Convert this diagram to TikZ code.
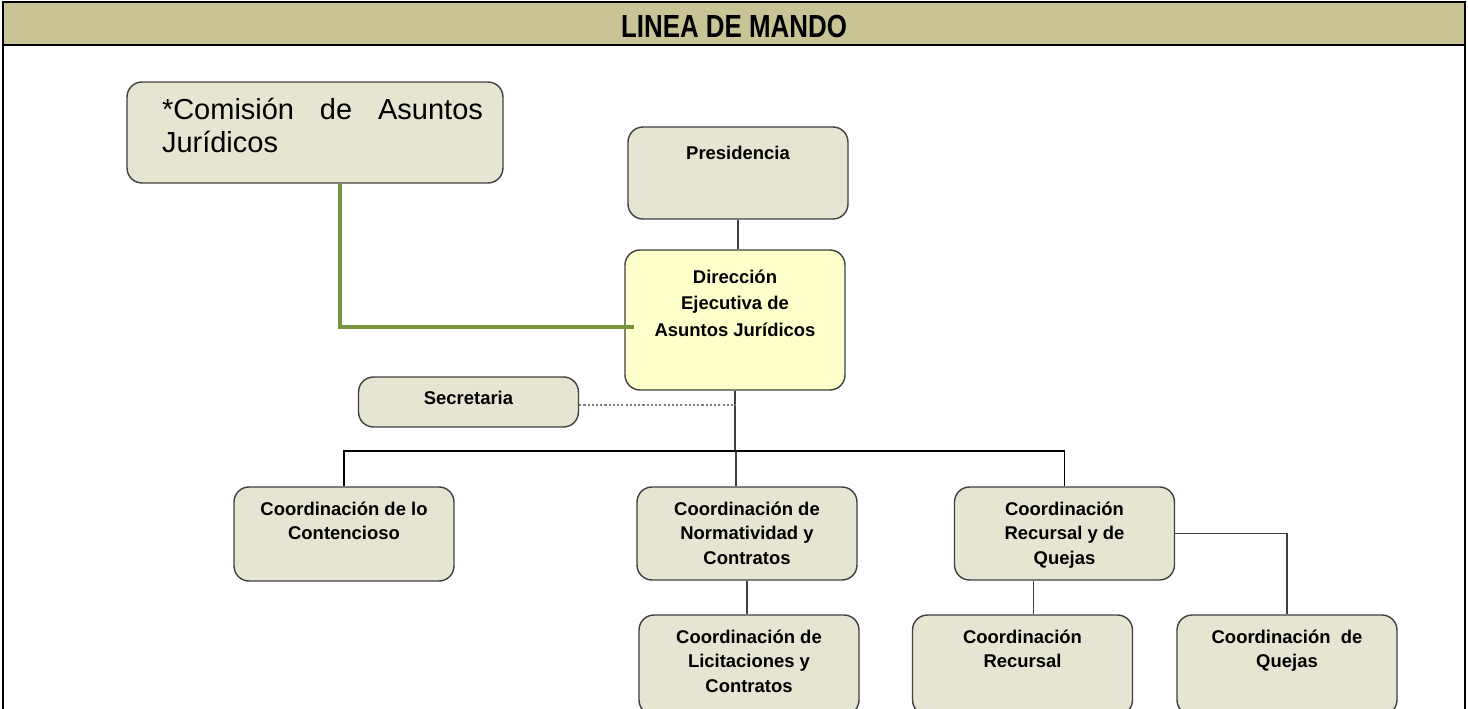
\documentclass[tikz,border=0pt]{standalone}
\usepackage{fontspec}
\setmainfont{Liberation Sans}
\usepackage{tikz}
\definecolor{bandtan}{RGB}{201,196,150}
\definecolor{boxfill}{RGB}{230,229,210}
\definecolor{dirfill}{RGB}{255,255,204}
\definecolor{linkgreen}{RGB}{119,147,60}
\definecolor{edgegray}{RGB}{64,64,64}
\newcommand{\boxlines}[3][0.36cm]{\parbox[c][#2][t]{4.2cm}{\centering\rule{0pt}{#1}#3}}

\begin{document}
\begin{tikzpicture}[x=0.02cm,y=-0.02cm]
\tikzstyle{orgbox}=[draw=edgegray,fill=boxfill,rounded corners=0.3cm,line width=0.8pt,inner xsep=0.1cm,inner ysep=0.2cm,font=\bfseries\fontsize{10.5}{14.2}\selectfont]
\tikzstyle{link}=[edgegray,line width=0.7pt]
% end of definitions
\clip (0,0) rectangle (1468,709);
\fill[white] (0,0) rectangle (1468,709);
\draw[line width=1.6pt] (3,712) -- (3,2) -- (1465,2) -- (1465,712); %frame
\filldraw[fill=bandtan,line width=1.6pt] (3,2) rectangle (1465,45);
\node[font=\bfseries\fontsize{18.2}{20}\selectfont] (title) at (734,26) {\scalebox{0.81}[1]{LINEA DE MANDO}};

\node[orgbox,font=\fontsize{16.5}{18.7}\selectfont] (com) at (315,132.5)
  {\parbox[c][1.62cm][t]{7.32cm}{\leftskip=0.6cm\rightskip=0.3cm\rule{0pt}{0.55cm}*Comisión\hfill de\hfill Asuntos\\Jurídicos}};
\node[orgbox] (pres) at (738,173) {\boxlines[0.44cm]{1.44cm}{Presidencia}};
\node[orgbox,fill=dirfill,font=\bfseries\fontsize{10.5}{15.3}\selectfont] (dir) at (735,320) {\boxlines[0.46cm]{2.4cm}{Dirección\\Ejecutiva de\\Asuntos Jurídicos}};
\node[orgbox] (sec) at (468.5,402) {\boxlines{0.6cm}{Secretaria}};

\node[orgbox] (cont) at (344,534) {\boxlines{1.48cm}{Coordinación de lo\\Contencioso}};
\node[orgbox] (norm) at (747,533.5) {\boxlines{1.46cm}{Coordinación de\\Normatividad y\\Contratos}};
\node[orgbox] (recq) at (1064.5,533.5) {\boxlines{1.46cm}{Coordinación\\Recursal y de\\Quejas}};

\node[orgbox] (lic) at (749,665) {\boxlines{1.6cm}{Coordinación de\\Licitaciones y\\Contratos}};
\node[orgbox] (recur) at (1022.5,665) {\boxlines{1.6cm}{Coordinación\\Recursal}};
\node[orgbox] (quej) at (1287,665) {\boxlines{1.6cm}{Coordinación~ de\\Quejas}};

\draw[link] (pres.south) -- (pres.south |- dir.north);
\draw[linkgreen,line width=2.3pt] ([xshift=0.5cm]com.south) |- ([xshift=0.2cm,yshift=-0.14cm]dir.west);
\coordinate (bus) at (736,451);
\draw[link] (dir.south) -- (dir.south |- bus);
\draw[gray,line width=0.6pt,dash pattern=on 1.2pt off 1.2pt] ([yshift=-0.06cm]sec.east) -- ([yshift=-0.06cm]sec.east -| bus);
\draw[black,line width=0.6pt] (cont.north) |- (bus) -| (recq.north);
\draw[link] (bus) -- (bus |- norm.north);
\draw[link] (norm.south) -- (norm.south |- lic.north);
\path (recur.north) ++(11,0) coordinate (rqtop);
\draw[link] (rqtop) -- (rqtop |- recq.south);
\draw[link] (recq.east) -| (quej.north);
\end{tikzpicture}
\end{document}
